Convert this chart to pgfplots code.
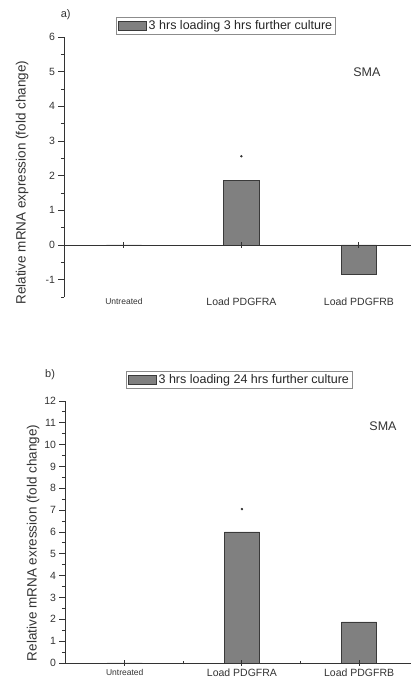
\documentclass[border=0pt]{standalone}
\usepackage{fontspec}
\setmainfont{Liberation Sans}
\usepackage{pgfplots}
\pgfplotsset{compat=1.18}
\definecolor{barfill}{HTML}{808080}
\definecolor{bardraw}{HTML}{3A3A3A}
\definecolor{axcol}{HTML}{333333}
\pgfplotsset{
 common/.style={
  scale only axis,
  width=347pt,
  xmin=-0.51, xmax=2.443,
  axis y line=left,
  xtick={0,1,2},
  xticklabels={{\fontsize{8.5}{10}\selectfont Untreated},Load PDGFRA,Load PDGFRB},
  xmajorticks=true,
  tick style={draw=axcol, line width=0.9pt},
  major tick length=5.5pt, minor tick length=3pt,
  tick align=outside,
  minor y tick num=1,
  /pgf/number format/assume math mode=true,
  yticklabel style={font=\fontsize{10.5}{12}\selectfont, text=black!80},
  xticklabel style={font=\fontsize{10.5}{12}\selectfont, text=black!80},
  legend style={draw=black!45, line width=0.8pt, font=\fontsize{12.5}{14}\selectfont, text=black!85, inner sep=1.5pt, anchor=center, legend cell align=left},
  clip=false,
  axis on top,
 },
 fixlines/.style={axis line style={-, draw=axcol, line width=0.9pt},
  x axis line style={-}, y axis line style={-}},
 barst/.style={ybar, bar width=0.3, fill=barfill, draw=bardraw, line width=0.8pt,
  legend image code/.code={\draw[fill=barfill,draw=bardraw,line width=0.8pt] (0pt,-4.5pt) rectangle (28pt,4.5pt);}},
}
\begin{document}
\begin{tikzpicture}
\useasboundingbox (0pt,0pt) rectangle (411pt,680pt);
% ---- panel a ----
\begin{axis}[common, at={(64pt,383pt)}, anchor=south west, height=260pt,
  ymin=-1.5, ymax=6, ytick={-1,0,...,6},
  extra y ticks={-1.5}, extra y tick labels={}, extra y tick style={major tick length=3pt},
  axis x line=middle, fixlines,
  x tick label style={yshift=-47pt},
  ylabel={Relative mRNA expression (fold change)},
  ylabel style={at={(rel axis cs:-0.121,0.44)}, anchor=center, font=\fontsize{13.5}{15}\selectfont, text=black!80},
  legend style={at={(rel axis cs:0.467,1.042)}}]
\addplot[barst] coordinates {(0,0) (1,1.85) (2,-0.85)};
\addlegendentry{3 hrs loading 3 hrs further culture}
\addplot[only marks, mark=*, mark size=1pt, black!80, forget plot] coordinates {(1,2.56)};
\node[font=\fontsize{11}{13}\selectfont, text=black!80] at (rel axis cs:0.005,1.085) {a)};
\node[font=\fontsize{12.5}{14}\selectfont, text=black!80] at (rel axis cs:0.873,0.865) {SMA};
\end{axis}
% ---- panel b ----
\begin{axis}[common, at={(65pt,17pt)}, anchor=south west, height=262pt, width=346pt,
  ymin=0, ymax=12, ytick={0,1,...,12},
  axis x line=bottom, fixlines,
  minor xtick={0.5,1.5},
  ylabel={Relative mRNA exression (fold change)},
  ylabel style={at={(rel axis cs:-0.092,0.458)}, anchor=center, font=\fontsize{13.5}{15}\selectfont, text=black!80},
  legend style={at={(rel axis cs:0.504,1.080)}}]
\addplot[barst] coordinates {(0,0) (1,6.0) (2,1.88)};
\addlegendentry{3 hrs loading 24 hrs further culture}
\addplot[only marks, mark=*, mark size=1pt, black!80, forget plot] coordinates {(1,7.05)};
\node[font=\fontsize{11}{13}\selectfont, text=black!80] at (rel axis cs:-0.043,1.099) {b)};
\node[font=\fontsize{12.5}{14}\selectfont, text=black!80] at (rel axis cs:0.919,0.905) {SMA};
\end{axis}
\end{tikzpicture}
\end{document}
